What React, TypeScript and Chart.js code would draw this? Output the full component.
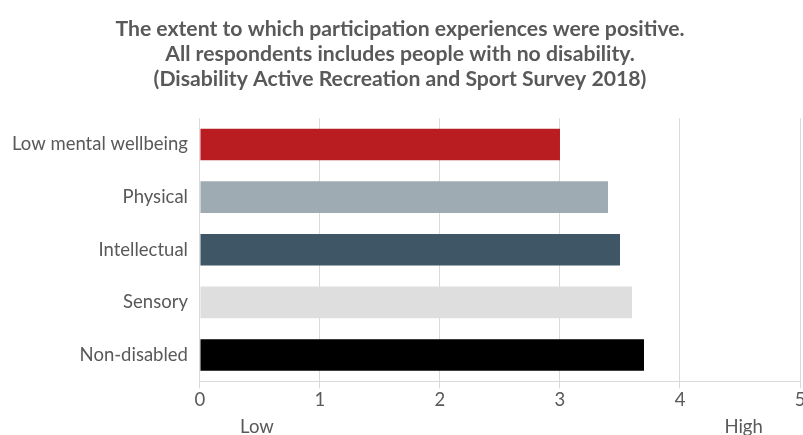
import React, { useEffect, useRef } from "react";
import { Chart, registerables } from "chart.js";

Chart.register(...registerables);

const categories = ["Low mental wellbeing", "Physical", "Intellectual", "Sensory", "Non-disabled"];
const values = [3.0, 3.4, 3.5, 3.6, 3.7];
const barColors = ["#b91c21", "#9fabb2", "#3e5665", "#dedede", "#000000"];
const titleLines = [
  "The extent to which participation experiences were positive.",
  "All respondents includes people with no disability.",
  "(Disability Active Recreation and Sport Survey 2018)",
];
const scaleLabels = [
  { value: 0.475, label: "Low" },
  { value: 4.53, label: "High" },
];

const FONT = "Lato, 'Open Sans', sans-serif";
const TEXT = "#595959";
const GRID = "#d9d9d9";
const TICK_FONT = { family: FONT, size: 18.5, lineHeight: 1.1 };

export default function App() {
  const ref = useRef<HTMLCanvasElement | null>(null);

  useEffect(() => {
    document.body.style.margin = "0";
    if (!ref.current) return;
    const chart = new Chart(ref.current, {
      type: "bar",
      data: {
        labels: categories,
        datasets: [
          {
            data: values,
            backgroundColor: barColors,
            borderWidth: 0,
            barPercentage: 0.6,
            categoryPercentage: 1,
          },
        ],
      },
      options: {
        indexAxis: "y",
        animation: false,
        responsive: false,
        maintainAspectRatio: false,
        layout: { padding: { top: 16.5, left: 0, right: 13, bottom: 0 } },
        plugins: {
          legend: { display: false },
          tooltip: { enabled: false },
          title: {
            display: true,
            text: titleLines,
            color: TEXT,
            font: { family: FONT, size: 21.2, weight: "bold", lineHeight: 1.19 },
            padding: { top: 0, bottom: 26 },
          },
        },
        scales: {
          x: {
            type: "linear",
            min: 0,
            max: 5,
            position: "bottom",
            ticks: {
              stepSize: 1,
              color: TEXT,
              font: TICK_FONT,
              padding: 2,
            },
            grid: { color: GRID, lineWidth: 1, tickLength: 7, drawTicks: true },
            border: { display: true, color: GRID },
          },
          x2: {
            type: "linear",
            min: 0,
            max: 5,
            position: "bottom",
            afterBuildTicks: (axis: any) => {
              axis.ticks = scaleLabels.map((s) => ({ value: s.value }));
            },
            ticks: {
              color: TEXT,
              font: TICK_FONT,
              padding: 4.5,
              maxRotation: 0,
              autoSkip: false,
              callback: (v: any) => {
                const f = scaleLabels.find((s) => s.value === Number(v));
                return f ? f.label : "";
              },
            },
            grid: { display: false, drawTicks: false },
            border: { display: false },
          },
          y: {
            type: "category",
            ticks: {
              color: TEXT,
              font: TICK_FONT,
              padding: 12,
            },
            grid: { display: false, drawTicks: false },
            border: { display: false },
          },
        },
      },
    });
    return () => chart.destroy();
  }, []);

  return (
    <div style={{ width: 803, height: 435, overflow: "hidden", position: "relative", background: "#fff" }}>
      <canvas ref={ref} width={813} height={442} style={{ display: "block", width: 813, height: 442 }} />
    </div>
  );
}
